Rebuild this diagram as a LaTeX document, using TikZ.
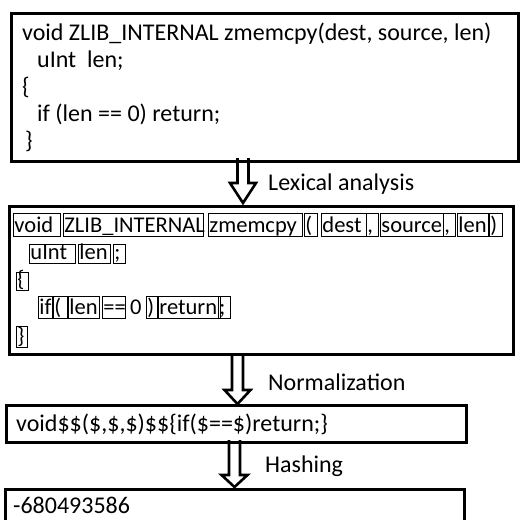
\documentclass[tikz,border=0pt]{standalone}
\usepackage{fontspec}
\setmainfont{Carlito}
\usetikzlibrary{calc}
\newcommand\fsz{\fontsize{24}{28}\selectfont}
\newcommand\tsz{\fontsize{22.5}{26}\selectfont}
\tikzset{
  bigbox/.style={draw=black, line width=3pt, inner sep=0pt},
  midbox/.style={draw=black, line width=2.5pt, inner sep=0pt},
  tok/.style={draw=black, line width=0.9pt, inner sep=0pt, anchor=north west},
  code/.style={anchor=base west, inner sep=0pt, font=\fsz},
  lbl/.style={anchor=base west, inner sep=0pt, font=\fsz},
  blockarr/.style={draw=black, line width=2.6pt, line join=miter},
}
\newcommand\tokb[6]{%
  \pgfmathsetmacro\tokw{#3-#2}\pgfmathsetmacro\tokh{#5-#4}\pgfmathsetmacro\tokt{#5-#4-3.5}%
  \node[tok, minimum width=\tokw pt, minimum height=\tokh pt, text height=\tokt pt, text depth=3.5pt,
        font=\tsz] (#1) at (#2,#4) {\makebox[\tokw pt][l]{\hspace{1pt}#6}};}
\newcommand\blockarrow[3]{%
  \draw[blockarr] ($(#1)+(-5.5,0)$) -- ($(#2)+(-5.5,-#3)$) -- ($(#2)+(-13,-#3)$) -- (#2)
     -- ($(#2)+(13,-#3)$) -- ($(#2)+(5.5,-#3)$) -- ($(#1)+(5.5,0)$);}
\begin{document}
\begin{tikzpicture}[x=1pt,y=-1pt]
\useasboundingbox (0,0) rectangle (520,520);
\clip (0,0) rectangle (520,520);
% box 1
\node[bigbox, anchor=north west, minimum width=507pt, minimum height=148pt] (b1) at (10,12) {};
\node[code] (l1) at (22,40) {void ZLIB\_INTERNAL zmemcpy(dest, source, len)};
\node[code] (l2) at (37,67) {uInt\ \ len;};
\node[code] (l3) at (22,94) {\{};
\node[code] (l4) at (37,121) {if (len == 0) return;};
\node[code] (l5) at (25,148) {\}};
% box 2
\node[bigbox, anchor=north west, minimum width=504pt, minimum height=148pt] (b2) at (8,205) {};
\tokb{t1}{13}{60}{213}{236}{void}
\tokb{t2}{63}{203}{213}{236}{ZLIB\_INTERNAL}
\tokb{t3}{208}{302}{213}{236}{zmemcpy}
\tokb{t4}{304}{317}{213}{236}{(}
\tokb{t5}{321}{366}{213}{236}{dest}
\tokb{t6}{366}{378}{213}{236}{,}
\tokb{t7}{380}{443}{213}{236}{source}
\tokb{t8}{443}{455}{213}{236}{,}
\tokb{t9}{457}{488}{213}{236}{len}
\tokb{t10}{489}{502}{213}{236}{)}
\tokb{u1}{29}{75}{244}{263}{uInt}
\tokb{u2}{78}{110}{244}{263}{len}
\tokb{u3}{113}{125}{244}{263}{;}
\tokb{v1}{16}{28}{272}{290}{\{}
\tokb{w1}{38}{52}{296}{318}{if}
\tokb{w2}{53}{67}{296}{318}{(}
\tokb{w3}{68}{99}{296}{318}{len}
\tokb{w4}{102}{125}{296}{318}{==}
\node[code, font=\tsz] (w5) at (130,314.5) {0};
\tokb{w6}{146}{157}{296}{318}{)}
\tokb{w7}{158}{220}{296}{318}{return}
\tokb{w8}{218}{230}{296}{318}{;}
\tokb{x1}{16}{27}{326}{347}{\}}
% box 3
\node[midbox, anchor=north west, minimum width=460pt, minimum height=37pt] (b3) at (5,404) {};
\node[code] (n1) at (16,431) {void\$\$(\$,\$,\$)\$\$\{if(\$==\$)return;\}};
% box 4
\node[midbox, anchor=north west, minimum width=459pt, minimum height=60pt] (b4) at (4,488) {};
\node[code] (h1) at (13,513) {-680493586};
% arrows
\coordinate (a1s) at (243,158);
\coordinate (a1e) at (243,203);
\coordinate (a2s) at (237.5,353);
\coordinate (a2e) at (237.5,404);
\coordinate (a3s) at (234.5,440);
\coordinate (a3e) at (234.5,487);
\blockarrow{a1s}{a1e}{20}
\blockarrow{a2s}{a2e}{14}
\blockarrow{a3s}{a3e}{12}
\node[lbl] (lab1) at (268,190) {Lexical analysis};
\node[lbl] (lab2) at (268,390) {Normalization};
\node[lbl] (lab3) at (265,472) {Hashing};
\end{tikzpicture}
\end{document}
